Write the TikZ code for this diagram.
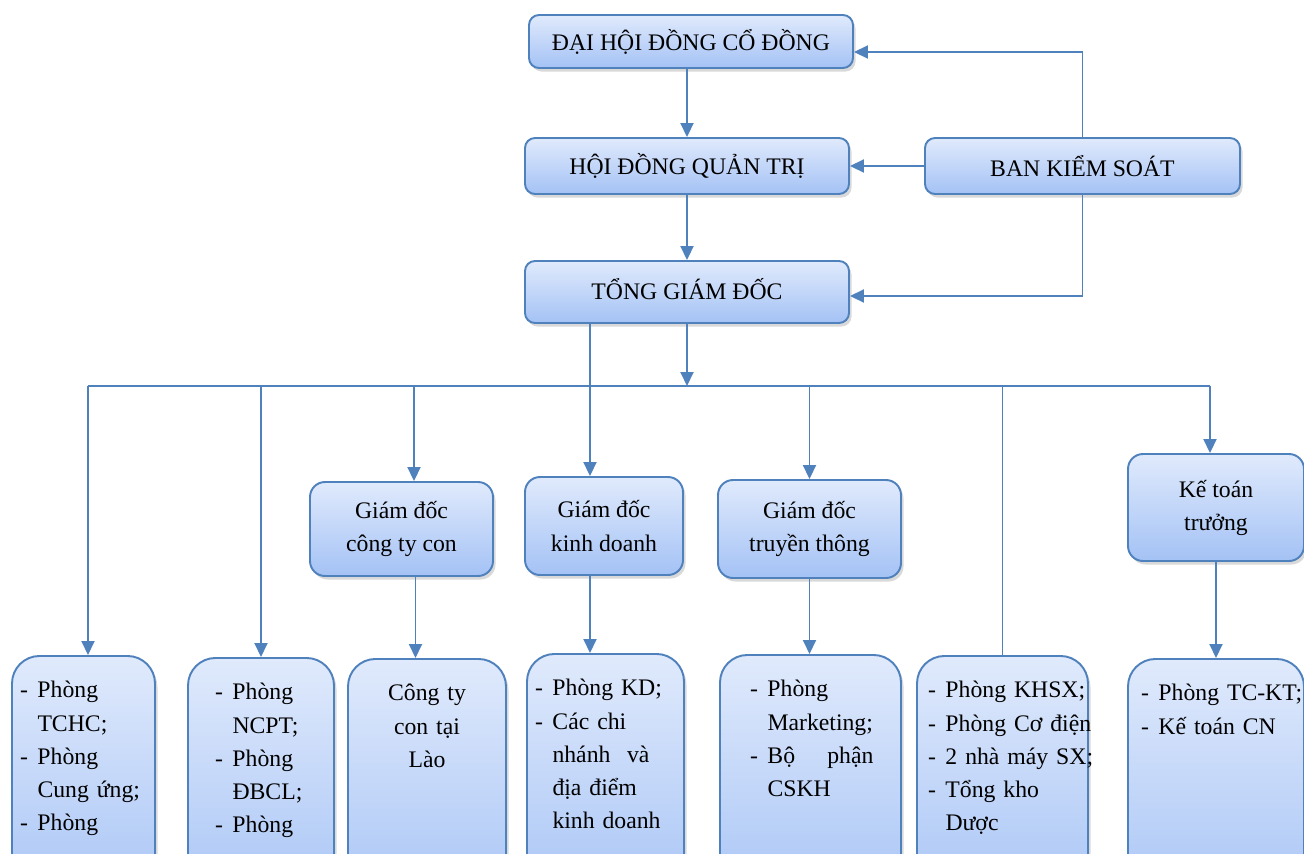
\documentclass[tikz,border=0pt]{standalone}
\usepackage{fontspec}
\setmainfont{Liberation Serif}
\usetikzlibrary{arrows.meta,shadows}

\definecolor{boxline}{RGB}{79,129,189}
\definecolor{boxtop}{RGB}{224,234,252}
\definecolor{boxbottom}{RGB}{164,194,245}

\newcommand{\deptitem}[1]{\makebox[0.35cm][l]{-}\mbox{#1}}
\newcommand{\deptcont}[1]{\hspace*{0.35cm}\mbox{#1}}

\tikzset{
  orgbox/.style={draw=boxline, line width=1.1pt, top color=boxtop, bottom color=boxbottom,
    drop shadow={opacity=0.3, shadow xshift=0.05cm, shadow yshift=-0.07cm},
    font=\fontsize{13.5}{18.8}\selectfont, inner sep=0pt},
  topbox/.style={orgbox, rounded corners=0.2cm, minimum height=1.12cm},
  midbox/.style={orgbox, rounded corners=0.3cm, minimum height=1.96cm, align=center},
  lowbox/.style={orgbox, rounded corners=0.55cm, anchor=north, align=left,
    text height=0.35cm, text depth=4cm, inner ysep=0.49cm},
  link/.style={draw=boxline, line width=1.1pt}
}

\begin{document}
\begin{tikzpicture}[>={Triangle[width=0.26cm,length=0.28cm]}]
  \useasboundingbox (0,0) rectangle (26.08,-17.08);

  % upper levels
  \node[topbox, minimum width=6.48cm, minimum height=1.06cm] (dhcd) at (13.82,-0.83) {ĐẠI HỘI ĐỒNG CỔ ĐỒNG};
  \node[topbox, minimum width=6.48cm] (hdqt) at (13.74,-3.32) {HỘI ĐỒNG QUẢN TRỊ};
  \node[topbox, minimum width=6.3cm] (bks) at (21.65,-3.32) {BAN KIỂM SOÁT};
  \node[topbox, minimum width=6.48cm, minimum height=1.24cm] (tgd) at (13.74,-5.84) {\raisebox{0.11cm}{TỔNG GIÁM ĐỐC}};

  % directors
  \node[midbox, minimum width=3.66cm, minimum height=1.88cm] (gdcon) at (8.03,-10.58) {Giám đốc\\công ty con};
  \node[midbox, minimum width=3.16cm] (gdkd) at (12.08,-10.52) {Giám đốc\\kinh doanh};
  \node[midbox, minimum width=3.66cm] (gdtt) at (16.19,-10.58) {Giám đốc\\truyền thông};
  \node[midbox, minimum width=3.52cm, minimum height=2.14cm] (ktt) at (24.32,-10.15) {Kế toán\\trưởng};

  % departments
  \node[lowbox, minimum width=2.86cm, text width=2.54cm] (tchc) at (1.67,-13.1)
    {\deptitem{Phòng}\\\deptcont{TCHC;}\\\deptitem{Phòng}\\\deptcont{Cung ứng;}\\\deptitem{Phòng}};
  \node[lowbox, minimum width=2.92cm, text width=1.84cm] (ncpt) at (5.22,-13.14)
    {\deptitem{Phòng}\\\deptcont{NCPT;}\\\deptitem{Phòng}\\\deptcont{ĐBCL;}\\\deptitem{Phòng}};
  \node[lowbox, minimum width=3.16cm, text width=2.6cm, align=center] (lao) at (8.54,-13.16)
    {Công ty\\con tại\\Lào};
  \node[lowbox, minimum width=3.14cm, text width=2.82cm] (kdoanh) at (12.11,-13.06)
    {\deptitem{Phòng KD;}\\\deptitem{Các chi}\\\deptcont{\hbox to 1.94cm{nhánh\hfill và}}\\\deptcont{địa điểm}\\\deptcont{kinh doanh}};
  \node[lowbox, minimum width=3.62cm, text width=2.42cm] (cskh) at (16.21,-13.08)
    {\deptitem{Phòng}\\\deptcont{Marketing;}\\\deptitem{\hbox to 2.12cm{Bộ\hfill phận}}\\\deptcont{CSKH}};
  \node[lowbox, minimum width=3.42cm, text width=2.98cm] (khsx) at (20.05,-13.1)
    {\deptitem{Phòng KHSX;}\\\deptitem{Phòng Cơ điện}\\\deptitem{2 nhà máy SX;}\\\deptitem{Tổng kho}\\\deptcont{Dược}};
  \node[lowbox, minimum width=3.52cm, text width=3.0cm] (tckt) at (24.32,-13.16)
    {\deptitem{Phòng TC-KT;}\\\deptitem{Kế toán CN}};

  \coordinate (busleft) at (1.76,-7.72);
  \coordinate (busright) at (24.2,-7.72);

  % connectors
  \draw[link, ->] (dhcd.south -| hdqt.north) -- (hdqt.north);
  \draw[link, ->] (hdqt) -- (tgd);
  \draw[link, ->] (bks) -- (hdqt);
  \draw[link, ->] (bks.north) |- ([yshift=-0.21cm]dhcd.east);
  \draw[link, ->] (bks.south) |- ([yshift=-0.08cm]tgd.east);
  \draw[link] (busleft) -- (busright);
  \draw[link, ->] (tgd.south) -- (tgd.south |- busleft);
  \draw[link, ->] ([xshift=-1.94cm]tgd.south) -- ([xshift=-0.28cm]gdkd.north);
  \draw[link, ->] (busleft) -- (busleft |- tchc.north);
  \draw[link, ->] (ncpt.north |- busleft) -- (ncpt.north);
  \draw[link, ->] ([xshift=0.25cm]gdcon.north |- busleft) -- ([xshift=0.25cm]gdcon.north);
  \draw[link, ->] ([xshift=0.28cm]gdcon.south) -- ([xshift=0.28cm]gdcon.south |- lao.north);
  \draw[link, ->] ([xshift=-0.28cm]gdkd.south) -- ([xshift=-0.28cm]gdkd.south |- kdoanh.north);
  \draw[link, ->] (gdtt.north |- busleft) -- (gdtt.north);
  \draw[link, ->] (gdtt.south) -- (gdtt.south |- cskh.north);
  \draw[link] (khsx.north |- busleft) -- (khsx.north);
  \draw[link, ->] (busright) -- (busright |- ktt.north);
  \draw[link, ->] (ktt.south) -- (ktt.south |- tckt.north);
\end{tikzpicture}
\end{document}
